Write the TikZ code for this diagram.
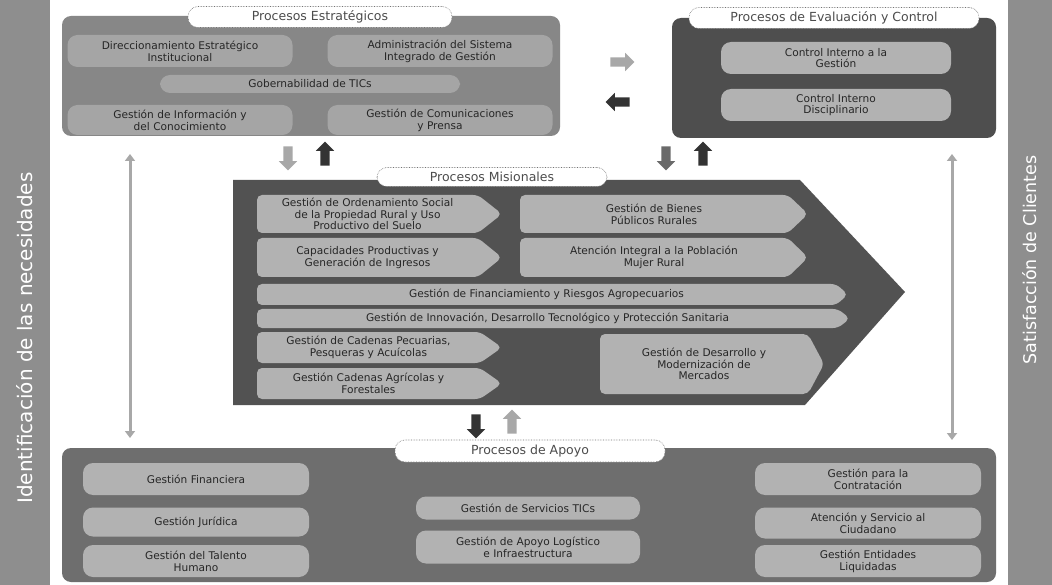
\documentclass[tikz,border=0pt]{standalone}
\usepackage{fontspec}
\setmainfont{DejaVu Sans}
\usetikzlibrary{shapes.arrows,arrows.meta}
\definecolor{barc}{HTML}{8E8E8E}
\definecolor{estc}{HTML}{878787}
\definecolor{evac}{HTML}{4E4E4E}
\definecolor{misc}{HTML}{525252}
\definecolor{apoc}{HTML}{6E6E6E}
\definecolor{itemc}{HTML}{B2B2B2}
\definecolor{itemd}{HTML}{A5A5A5}
\definecolor{txtc}{HTML}{262626}
\definecolor{arrl}{HTML}{A8A8A8}
\definecolor{arrm}{HTML}{6A6A6A}
\definecolor{arrd}{HTML}{333333}
\newcommand{\pentitem}[7]{%
  \fill[itemc, rounded corners=5pt] (#2,#3) -- ({#4-#6},#3) -- (#4,{(#3+#5)/2}) -- ({#4-#6},#5) -- (#2,#5) -- cycle;
  \node[itemtext] (#1) at ({(#2+#4-#6)/2},{(#3+#5)/2}) {#7};}
\begin{document}
\begin{tikzpicture}[x=1pt,y=-1pt,
  font=\fontsize{10.6}{11.8}\selectfont,
  box/.style={rounded corners=9pt, draw=none, inner sep=0pt},
  pill/.style={rounded corners=10pt, fill=itemc, text=txtc, align=center, inner sep=1pt},
  itemtext/.style={text=txtc, align=center, inner sep=0pt},
  ptitle/.style={rounded corners=10pt, fill=white, draw=black!55, densely dotted, line width=0.6pt,
    font=\fontsize{12.5}{14}\selectfont, text=black!70, inner sep=1pt},
  sidetext/.style={rotate=90, text=white},
  blockarrow/.style={single arrow, single arrow head extend=4.5pt, minimum height=24pt,
    inner sep=4.5pt, draw=none},
  dbl/.style={{Triangle[width=10pt,length=7pt]}-{Triangle[width=10pt,length=7pt]}, line width=3pt, draw=arrl}]
\useasboundingbox (0,0) rectangle (1052,585);
\fill[white] (0,0) rectangle (1052,585);

% side bars
\fill[barc] (0,0) rectangle (50,585);
\node[sidetext, font=\fontsize{20}{22}\selectfont] (idn) at (25,338) {Identificación de las necesidades};
\fill[barc] (1008,0) rectangle (1052,585);
\node[sidetext, font=\fontsize{17.5}{20}\selectfont] (sat) at (1030,260) {Satisfacción de Clientes};

% Procesos Estrategicos
\node[box, fill=estc, minimum width=498, minimum height=120] (est) at (311,76) {};
\node[ptitle, minimum width=264, minimum height=21] (estt) at (320,17) {Procesos Estratégicos};
\node[pill, fill=itemd, minimum width=225, minimum height=32] (dei) at (180,51) {Direccionamiento Estratégico\\Institucional};
\node[pill, fill=itemd, minimum width=225, minimum height=32] (asig) at (440,51) {Administración del Sistema\\Integrado de Gestión};
\node[pill, fill=itemd, minimum width=300, minimum height=18] (gtic) at (310,84) {Gobernabilidad de TICs};
\node[pill, fill=itemd, minimum width=225, minimum height=30] (gic) at (180,120) {Gestión de Información y\\del Conocimiento};
\node[pill, fill=itemd, minimum width=225, minimum height=30] (gcp) at (440,120) {Gestión de Comunicaciones\\y Prensa};

% Procesos de Evaluacion y Control
\node[box, fill=evac, minimum width=324, minimum height=120] (eva) at (834,78) {};
\node[ptitle, minimum width=290, minimum height=21] (evat) at (834,18) {Procesos de Evaluación y Control};
\node[pill, minimum width=230, minimum height=32] (cig) at (836,58) {Control Interno a la\\Gestión};
\node[pill, minimum width=230, minimum height=32] (cid) at (836,105) {Control Interno\\Disciplinario};

% arrows between estrategicos and evaluacion
\node[blockarrow, fill=arrl] (ar1) at (620,62) {};
\node[blockarrow, fill=arrd, rotate=180] (ar2) at (620,102) {};

% arrows under estrategicos / evaluacion
\node[blockarrow, fill=arrl, rotate=-90] (ad1) at (288,156) {};
\node[blockarrow, fill=arrd, rotate=90] (au1) at (325,156) {};
\node[blockarrow, fill=arrm, rotate=-90] (ad2) at (666,156) {};
\node[blockarrow, fill=arrd, rotate=90] (au2) at (703,156) {};

% vertical double arrows
\coordinate (lv1) at (130,154);
\coordinate (lv2) at (130,438);
\coordinate (rv1) at (952,154);
\coordinate (rv2) at (952,440);
\draw[dbl] (lv1) -- (lv2);
\draw[dbl] (rv1) -- (rv2);

% Procesos Misionales big arrow
\fill[misc] (233,180) -- (800,180) -- (905,292) -- (805,405) -- (233,405) -- cycle;
\node[ptitle, minimum width=230, minimum height=19] (mist) at (492,177) {Procesos Misionales};
\pentitem{gos}{257}{195}{502}{233}{24}{Gestión de Ordenamiento Social\\de la Propiedad Rural y Uso\\Productivo del Suelo}
\pentitem{cpg}{257}{238}{502}{277}{24}{Capacidades Productivas y\\Generación de Ingresos}
\pentitem{gbp}{520}{195}{808}{233}{20}{Gestión de Bienes\\Públicos Rurales}
\pentitem{aip}{520}{238}{808}{277}{20}{Atención Integral a la Población\\Mujer Rural}
\pentitem{gfr}{257}{284}{848}{305}{12}{Gestión de Financiamiento y Riesgos Agropecuarios}
\pentitem{gid}{257}{309}{850}{328}{12}{Gestión de Innovación, Desarrollo Tecnológico y Protección Sanitaria}
\pentitem{gcpp}{257}{332}{502}{363}{22}{Gestión de Cadenas Pecuarias,\\Pesqueras y Acuícolas}
\pentitem{gcaf}{257}{368}{502}{399}{22}{Gestión Cadenas Agrícolas y\\Forestales}
\pentitem{gdm}{600}{334}{824}{394}{16}{Gestión de Desarrollo y\\Modernización de\\Mercados}

% arrows under misionales
\node[blockarrow, fill=arrd, rotate=-90] (ad3) at (476,424) {};
\node[blockarrow, fill=arrl, rotate=90] (au3) at (512,424) {};

% Procesos de Apoyo
\node[box, fill=apoc, minimum width=934, minimum height=134] (apo) at (529,515) {};
\node[ptitle, minimum width=270, minimum height=22] (apot) at (530,451) {Procesos de Apoyo};
\node[pill, minimum width=226, minimum height=32] (gfin) at (196,479) {Gestión Financiera};
\node[pill, minimum width=226, minimum height=29] (gjur) at (196,522) {Gestión Jurídica};
\node[pill, minimum width=226, minimum height=32] (gth) at (196,561) {Gestión del Talento\\Humano};
\node[pill, minimum width=224, minimum height=23] (gstic) at (528,508) {Gestión de Servicios TICs};
\node[pill, minimum width=224, minimum height=33] (gali) at (528,547) {Gestión de Apoyo Logístico\\e Infraestructura};
\node[pill, minimum width=226, minimum height=32] (gpc) at (868,479) {Gestión para la\\Contratación};
\node[pill, minimum width=226, minimum height=31] (asc) at (868,523) {Atención y Servicio al\\Ciudadano};
\node[pill, minimum width=226, minimum height=32] (gel) at (868,561) {Gestión Entidades\\Liquidadas};
\end{tikzpicture}
\end{document}
